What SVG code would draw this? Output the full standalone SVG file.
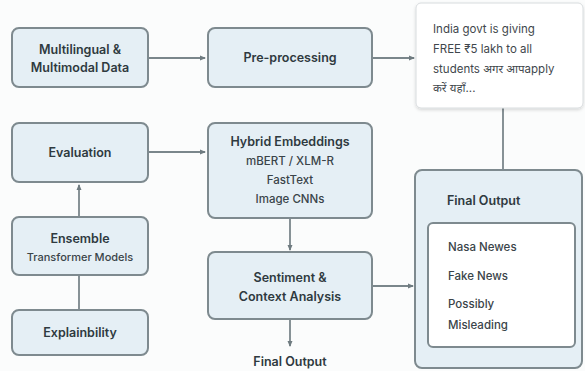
<svg xmlns="http://www.w3.org/2000/svg" width="585" height="371" viewBox="0 0 585 371">
<defs>
<marker id="ah" markerWidth="6" markerHeight="6" refX="5" refY="3" orient="auto" markerUnits="userSpaceOnUse">
<path d="M0,0.5 L6,3 L0,5.5 Z" fill="#6f7b80"/>
</marker>
<filter id="sh" x="-10%" y="-10%" width="120%" height="130%">
<feDropShadow dx="0" dy="1.5" stdDeviation="1.5" flood-color="#000" flood-opacity="0.15"/>
</filter>
</defs>
<style>
.box{fill:#e5eff5;stroke:#7e8a8f;stroke-width:2}
.t{font-family:Inter,"Liberation Sans",sans-serif;font-weight:600;font-size:12.5px;fill:#2f3a3f;text-anchor:middle}
.s{font-family:Inter,"Liberation Sans",sans-serif;font-weight:500;font-size:11.5px;fill:#3a4449;text-anchor:middle}
.l{font-family:Inter,"Liberation Sans",sans-serif;font-weight:500;font-size:11.5px;fill:#3a4449}
.tw{font-family:Inter,"Liberation Sans","Noto Sans",sans-serif;font-size:11.5px;fill:#3f474c}
.c{stroke:#7a868b;stroke-width:1.8;fill:none}
</style>
<rect width="585" height="371" fill="#fbfcfc"/>
<g id="connectors">
<line class="c" x1="148" y1="58" x2="205" y2="58" marker-end="url(#ah)"/>
<line class="c" x1="372" y1="58" x2="414" y2="58" marker-end="url(#ah)"/>
<line class="c" x1="148" y1="152" x2="205" y2="152" marker-end="url(#ah)"/>
<line class="c" x1="79" y1="217" x2="79" y2="185" marker-end="url(#ah)"/>
<line class="c" x1="79" y1="275" x2="79" y2="310"/>
<line class="c" x1="290" y1="218" x2="290" y2="250" marker-end="url(#ah)"/>
<line class="c" x1="290" y1="319" x2="290" y2="346" marker-end="url(#ah)"/>
<line class="c" x1="372" y1="286" x2="413" y2="286" marker-end="url(#ah)"/>
<line class="c" x1="503" y1="108" x2="503" y2="170"/>
</g>
<g id="n-data">
<rect class="box" x="12" y="28" width="136" height="59" rx="7"/>
<text class="t" x="80" y="54">Multilingual &amp;</text>
<text class="t" x="80" y="72">Multimodal Data</text>
</g>
<g id="n-pre">
<rect class="box" x="208" y="28" width="164" height="59" rx="7"/>
<text class="t" x="290" y="62">Pre-processing</text>
</g>
<g id="n-tweet">
<rect x="416" y="3" width="167" height="105" rx="5" fill="#ffffff" stroke="#d8dcde" stroke-width="1" filter="url(#sh)"/>
<text class="tw" x="433" y="33">India govt is giving</text>
<text class="tw" x="433" y="53">FREE ₹5 lakh to all</text>
<text class="tw" x="433" y="73">students अगर आपapply</text>
<text class="tw" x="433" y="92">करें यहाँ...</text>
</g>
<g id="n-eval">
<rect class="box" x="12" y="123" width="136" height="59" rx="7"/>
<text class="t" x="80" y="157">Evaluation</text>
</g>
<g id="n-hybrid">
<rect class="box" x="208" y="123" width="164" height="95" rx="7"/>
<text class="t" x="290" y="146">Hybrid Embeddings</text>
<text class="s" x="290" y="165">mBERT / XLM-R</text>
<text class="s" x="290" y="184">FastText</text>
<text class="s" x="290" y="203">Image CNNs</text>
</g>
<g id="n-ensemble">
<rect class="box" x="12" y="217" width="136" height="58" rx="7"/>
<text class="t" x="80" y="243">Ensemble</text>
<text class="s" x="80" y="261" style="font-size:11px">Transformer Models</text>
</g>
<g id="n-explain">
<rect class="box" x="12" y="310" width="136" height="45" rx="7"/>
<text class="t" x="80" y="337">Explainbility</text>
</g>
<g id="n-sentiment">
<rect class="box" x="208" y="252" width="164" height="67" rx="7"/>
<text class="t" x="290" y="282">Sentiment &amp;</text>
<text class="t" x="290" y="301">Context Analysis</text>
</g>
<g id="n-final-label">
<text class="t" x="290" y="366">Final Output</text>
</g>
<g id="n-final">
<rect class="box" x="415" y="170" width="167" height="198" rx="7"/>
<text class="t" x="447" y="205" style="text-anchor:start">Final Output</text>
<rect x="428" y="223" width="147" height="124" rx="5" fill="#ffffff" stroke="#7e8a8f" stroke-width="2"/>
<text class="l" x="448" y="251">Nasa Newes</text>
<text class="l" x="448" y="280">Fake News</text>
<text class="l" x="448" y="308">Possibly</text>
<text class="l" x="448" y="329">Misleading</text>
</g>
</svg>
